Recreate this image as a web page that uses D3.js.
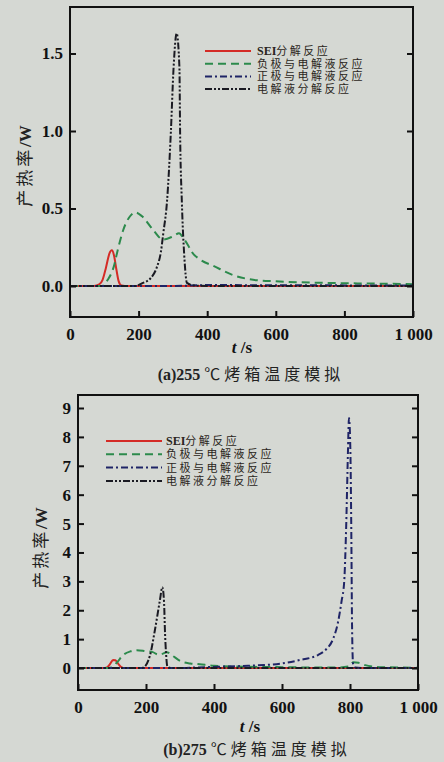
<!DOCTYPE html>
<html>
<head>
<meta charset="utf-8">
<script src="https://cdn.jsdelivr.net/npm/d3@7"></script>
<style>
  body { margin: 0; background: #d5d8d3; }
  svg { display: block; }
</style>
</head>
<body>
<svg id="main_svg" width="444" height="762"></svg>
<script>
// ticks and labels
const xTicks = [0, 200, 400, 600, 800, 1000];
const xTickLabels = ["0", "200", "400", "600", "800", "1 000"];
const yTicksA = [0, 0.5, 1.0, 1.5];
const yTicksB = [0, 1, 2, 3, 4, 5, 6, 7, 8, 9];
const seriesNames = ["SEI分解反应", "负极与电解液反应", "正极与电解液反应", "电解液分解反应"];
const captions = ["(a)255", "(b)275"];

// (a) 255 C oven, [t (s), heat rate (W)]
const seiA = [[0,0],[70,0],[85,0.01],[95,0.04],[105,0.12],[115,0.21],[122,0.23],[128,0.2],[135,0.11],[142,0.03],[150,0.003],[160,0],[1000,0]];
const anodeA = [[0,0],[90,0],[97,0.002],[110,0.04],[127,0.12],[140,0.24],[155,0.36],[175,0.45],[190,0.475],[210,0.45],[243,0.36],[271,0.3],[300,0.32],[318,0.34],[330,0.31],[345,0.26],[355,0.22],[380,0.17],[418,0.13],[476,0.07],[534,0.04],[600,0.03],[700,0.022],[800,0.018],[900,0.015],[1000,0.012]];
const cathodeA = [[0,0],[300,0],[400,0.006],[600,0.005],[800,0.004],[1000,0.003]];
const electrolyteA = [[0,0],[190,0],[213,0.02],[235,0.05],[253,0.12],[265,0.22],[272,0.34],[283,0.55],[294,0.99],[302,1.41],[311,1.63],[319,1.41],[321,0.99],[326,0.55],[333,0.2],[341,0.02],[360,0.004],[400,0],[1000,0]];

// (b) 275 C oven
const seiB = [[0,0],[75,0],[85,0.02],[95,0.15],[103,0.28],[110,0.27],[118,0.15],[126,0.04],[133,0.005],[140,0],[1000,0]];
const anodeB = [[0,0],[92,0],[100,0.03],[115,0.2],[133,0.45],[155,0.58],[173,0.62],[200,0.58],[220,0.55],[235,0.47],[250,0.5],[261,0.55],[275,0.45],[305,0.22],[330,0.16],[358,0.13],[400,0.08],[500,0.045],[600,0.03],[700,0.02],[770,0.02],[795,0.05],[810,0.2],[825,0.18],[845,0.1],[870,0.05],[900,0.03],[1000,0.01]];
const cathodeB = [[0,0],[300,0],[350,0.02],[400,0.04],[500,0.08],[600,0.16],[653,0.28],[706,0.45],[730,0.65],[750,1.0],[765,1.6],[775,2.3],[783,3.0],[789,5.0],[794,7.5],[797,8.65],[801,7.6],[804,4.5],[806,1.5],[809,0.15],[815,0.02],[850,0],[1000,0]];
const electrolyteB = [[0,0],[185,0],[191,0.01],[212,0.45],[226,1.3],[241,2.35],[248,2.8],[253,2.3],[256,1.2],[259,0.5],[263,0.05],[275,0],[1000,0]];

const lineStyles = [
  {color: "#d42b26", dash: null},
  {color: "#2c8a4c", dash: "8,5"},
  {color: "#1f2466", dash: "7,3,2,3"},
  {color: "#1a1a22", dash: "7,2,2,2,2,2"}
];

const serifFont = "'Liberation Serif', 'Times New Roman', serif";
const cjkFont = "'Noto Sans CJK SC', sans-serif";
// latin font first so the legend rows keep a compact line box
const legendFont = "'Liberation Serif', 'Noto Sans CJK SC', serif";

const svg = d3.select("#main_svg");
svg.append("rect").attr("width", 444).attr("height", 762).attr("fill", "#d5d8d3");

function drawPanel(p) {
  const x = d3.scaleLinear().domain([0, 1000]).range([p.left, p.right]);
  const y = d3.scaleLinear().domain(p.yDomain).range([p.bottom, p.top]);
  const g = svg.append("g");

  g.append("clipPath").attr("id", "clip_" + p.id)
    .append("rect").attr("x", p.left).attr("y", p.top)
    .attr("width", p.right - p.left).attr("height", p.bottom - p.top);

  // curves
  const line = d3.line().x(d => x(d[0])).y(d => y(d[1])).curve(d3.curveMonotoneX);
  p.series.forEach((s, i) => {
    g.append("path").datum(s)
      .attr("clip-path", "url(#clip_" + p.id + ")")
      .attr("d", line)
      .attr("fill", "none")
      .attr("stroke", lineStyles[i].color)
      .attr("stroke-width", 2)
      .attr("stroke-dasharray", lineStyles[i].dash);
  });

  // axes, ticks pointing inward
  const xAxis = g.append("g").attr("transform", "translate(0," + p.bottom + ")")
    .call(d3.axisBottom(x).tickValues(xTicks).tickSize(-6).tickPadding(11)
      .tickFormat((d, i) => xTickLabels[i]));
  const yAxis = g.append("g").attr("transform", "translate(" + p.left + ",0)")
    .call(d3.axisLeft(y).tickValues(p.yTicks).tickSize(-6).tickPadding(7).tickFormat(p.yFormat));
  const yAxisR = g.append("g").attr("transform", "translate(" + p.right + ",0)")
    .call(d3.axisRight(y).tickValues(p.yTicks).tickSize(-6).tickFormat(""));
  [xAxis, yAxis, yAxisR].forEach(a => {
    a.select(".domain").remove();
    a.selectAll("line").attr("stroke", "#111").attr("stroke-width", 2);
    a.selectAll("text").attr("font-family", serifFont).attr("font-weight", "bold")
      .attr("font-size", 17).attr("fill", "#111");
  });

  g.append("rect").attr("x", p.left).attr("y", p.top)
    .attr("width", p.right - p.left).attr("height", p.bottom - p.top)
    .attr("fill", "none").attr("stroke", "#111").attr("stroke-width", 2);

  // legend
  const leg = g.append("g");
  seriesNames.forEach((name, i) => {
    const ly = p.legend.y + i * p.legend.step;
    leg.append("line").attr("x1", p.legend.x1).attr("x2", p.legend.x2)
      .attr("y1", ly).attr("y2", ly)
      .attr("stroke", lineStyles[i].color).attr("stroke-width", 2)
      .attr("stroke-dasharray", lineStyles[i].dash);
    const t = leg.append("text").attr("x", p.legend.tx).attr("y", ly).attr("dy", "0.36em")
      .attr("font-family", legendFont).attr("font-size", 11).attr("fill", "#2a2520");
    if (name.startsWith("SEI")) {
      t.append("tspan").attr("font-weight", "bold").attr("font-size", 12).text("SEI");
      t.append("tspan").attr("letter-spacing", 2.5).text(name.slice(3));
    } else {
      t.append("tspan").attr("letter-spacing", 2.5).text(name);
    }
  });

  // y label
  const yl = g.append("text")
    .attr("transform", "translate(" + p.yLabel.x + "," + p.yLabel.y + ")rotate(-90)")
    .attr("text-anchor", "middle").attr("dy", "0.35em").attr("font-size", 17).attr("fill", "#222");
  yl.append("tspan").attr("font-family", cjkFont).attr("letter-spacing", 3).text("产热率");
  yl.append("tspan").attr("font-family", serifFont).attr("font-weight", "bold").text("/W");

  // x label
  const xl = g.append("text").attr("x", p.xLabel.x).attr("y", p.xLabel.y)
    .attr("text-anchor", "middle").attr("font-family", serifFont).attr("font-weight", "bold")
    .attr("font-size", 17).attr("fill", "#111");
  xl.append("tspan").attr("font-style", "italic").text("t");
  xl.append("tspan").text(" /s");

  // caption
  const cap = g.append("text").attr("x", p.caption.x).attr("y", p.caption.y)
    .attr("text-anchor", "middle").attr("font-size", 16).attr("fill", "#222");
  cap.append("tspan").attr("font-family", serifFont).attr("font-weight", "bold").text(p.captionText + " ");
  cap.append("tspan").attr("font-family", cjkFont).attr("letter-spacing", 4).text("℃烤箱温度模拟");
}

drawPanel({
  id: "a", left: 70, right: 413, top: 7, bottom: 317,
  yDomain: [-0.2, 1.8], yTicks: yTicksA, yFormat: d3.format(".1f"),
  series: [seiA, anodeA, cathodeA, electrolyteA],
  legend: {x1: 205, x2: 251, tx: 257, y: 51, step: 12.7},
  yLabel: {x: 25, y: 166}, xLabel: {x: 242, y: 353},
  caption: {x: 251, y: 380}, captionText: captions[0]
});

drawPanel({
  id: "b", left: 78, right: 418, top: 395, bottom: 690,
  yDomain: [-0.76, 9.45], yTicks: yTicksB, yFormat: d3.format("d"),
  series: [seiB, anodeB, cathodeB, electrolyteB],
  legend: {x1: 106, x2: 162, tx: 166, y: 441, step: 13.3},
  yLabel: {x: 41, y: 548}, xLabel: {x: 250, y: 732},
  caption: {x: 257, y: 755}, captionText: captions[1]
});
</script>
</body>
</html>
